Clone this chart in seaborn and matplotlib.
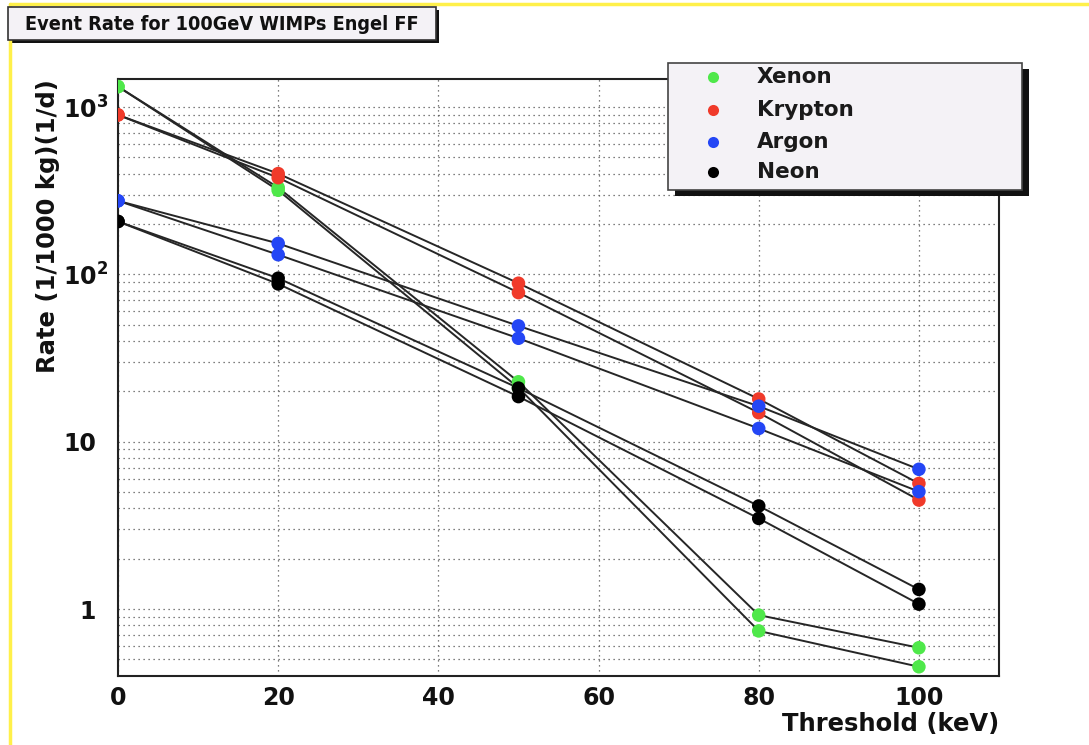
import numpy as np
import pandas as pd
import matplotlib
matplotlib.use("Agg")
import matplotlib.pyplot as plt
import matplotlib.font_manager as fm
import matplotlib.transforms as mtrans
import seaborn as sns
from matplotlib.lines import Line2D
from matplotlib.patches import Rectangle
from matplotlib.ticker import FixedLocator, MultipleLocator, LogLocator, NullFormatter

# ---------------- data ----------------
thresholds = [0, 20, 50, 80, 100]
xenon_a = [1324, 330, 22.8, 0.92, 0.587]
xenon_b = [1324, 318, 21.0, 0.74, 0.452]
krypton_a = [897, 400, 88.5, 18.0, 5.63]
krypton_b = [897, 378, 77.8, 14.9, 4.48]
argon_a = [275, 153, 49.2, 16.3, 6.84]
argon_b = [275, 131, 41.5, 12.0, 5.03]
neon_a = [207, 94.8, 20.9, 4.13, 1.31]
neon_b = [207, 87.7, 18.6, 3.48, 1.07]

elements = ["Xenon", "Krypton", "Argon", "Neon"]
colors = ["#4fe84a", "#f03a2a", "#2446f5", "#000000"]
title = "Event Rate for 100GeV WIMPs Engel FF"
xlabel = "Threshold (keV)"
ylabel = "Rate (1/1000 kg)(1/d)"
ytick_vals = [1, 10, 100, 1000]
ytick_labels = ["1", "10", r"$10^{2}$", r"$10^{3}$"]
xtick_vals = [0, 20, 40, 60, 80, 100]

series = {
    "Xenon": [xenon_a, xenon_b],
    "Krypton": [krypton_a, krypton_b],
    "Argon": [argon_a, argon_b],
    "Neon": [neon_a, neon_b],
}
rows = []
for elem in elements:
    for k, vals in enumerate(series[elem]):
        for t, v in zip(thresholds, vals):
            rows.append(dict(Threshold=t, Rate=v, Element=elem, Curve=f"{elem}-{k}"))
df = pd.DataFrame(rows)

# ---------------- style ----------------
sns.set_style("white")
plt.rcParams["font.family"] = ["DejaVu Sans"]
plt.rcParams["mathtext.fontset"] = "dejavusans"
plt.rcParams["mathtext.default"] = "bf"

W, H = 1089, 745
fig = plt.figure(figsize=(W / 100, H / 100), dpi=100)
fig.patch.set_facecolor("white")

def fx(p):
    return p / W

def fy(p):
    return 1 - p / H

ax = fig.add_axes([fx(118), fy(676), (999 - 118) / W, (676 - 79) / H])
ax.set_facecolor("white")

sns.lineplot(data=df, x="Threshold", y="Rate", units="Curve", estimator=None,
             color="#262626", lw=1.4, ax=ax, legend=False, sort=False, zorder=2)
sns.scatterplot(data=df, x="Threshold", y="Rate", hue="Element",
                palette=dict(zip(elements, colors)), s=95, edgecolor="none",
                ax=ax, legend=False, zorder=3)

ax.set_yscale("log")
ax.set_xlim(0, 110)
ax.set_ylim(0.398, 1470)

ax.xaxis.set_major_locator(FixedLocator(xtick_vals))
ax.xaxis.set_minor_locator(MultipleLocator(5))
ax.set_xticklabels([str(v) for v in xtick_vals])
ax.yaxis.set_major_locator(FixedLocator(ytick_vals))
ax.set_yticklabels(ytick_labels)
ax.yaxis.set_minor_locator(LogLocator(base=10, subs=np.arange(2, 10)))
ax.yaxis.set_minor_formatter(NullFormatter())

ax.tick_params(axis="x", which="major", direction="in", length=11, width=1.3,
               pad=7, labelsize=17, colors="#222222", labelcolor="#111111")
ax.tick_params(axis="x", which="minor", direction="in", length=6, width=1.3,
               colors="#222222")
ax.tick_params(axis="y", which="major", direction="in", length=19, width=1.3,
               pad=16, labelsize=17, colors="#444444", labelcolor="#111111")
ax.tick_params(axis="y", which="minor", direction="in", length=11, width=1.3,
               colors="#444444")
for lab in ax.get_xticklabels() + ax.get_yticklabels():
    lab.set_fontweight("bold")

# shift power-of-ten labels so the exponent sticks out to the right (ROOT style)
shift = mtrans.ScaledTranslation(9 / 72, 0, fig.dpi_scale_trans)
for tick in ax.yaxis.get_major_ticks():
    if tick.label1.get_text().startswith("$"):
        tick.label1.set_transform(tick.label1.get_transform() + shift)

grid_kw = dict(ls=(0, (1, 3)), color="#555555", lw=0.9)
ax.grid(True, which="both", axis="y", **grid_kw)
ax.grid(True, which="major", axis="x", **grid_kw)
ax.set_axisbelow(True)

for sp in ax.spines.values():
    sp.set_visible(True)
    sp.set_color("#222222")
    sp.set_linewidth(1.5)

ax.set_xlabel(xlabel, fontsize=17.5, fontweight="bold", loc="right", color="#111111")
ax.xaxis.set_label_coords(1.0, -0.06)
ax.set_ylabel(ylabel, fontsize=17.5, fontweight="bold", loc="top", color="#111111")
ax.yaxis.set_label_coords(-0.066, 1.0)

# ---------------- title ----------------
box_fc = "#f4f2f6"

def pick_condensed():
    best = None
    for f in fm.fontManager.ttflist:
        name = f.name
        st = str(f.stretch).lower()
        fn = f.fname.lower()
        cond = ("narrow" in name.lower() or "condensed" in name.lower()
                or "condensed" in st or "narrow" in fn or "condensed" in fn)
        if not cond:
            continue
        w = f.weight
        bold = (w in ("bold", "semibold", "demibold") or
                (isinstance(w, (int, float)) and w >= 600) or "bold" in fn)
        if bold and "italic" not in fn and "oblique" not in fn:
            score = 0 if ("liberation" in name.lower() or "arial" in name.lower()) else 1
            if best is None or score < best[0]:
                best = (score, f.fname)
    return best[1] if best else None

cond_font = pick_condensed()
if cond_font:
    tprops = fm.FontProperties(fname=cond_font, size=15)
else:
    tprops = fm.FontProperties(family="Liberation Sans", weight="bold", size=15)
ttl = fig.text(0, 0, title, ha="center", va="center",
               fontproperties=tprops, color="#111111", zorder=3)
fig.canvas.draw()
bw = ttl.get_window_extent().width
if bw > 395:
    ttl.set_fontsize(15 * 395.0 / bw)
    fig.canvas.draw()
    bw = ttl.get_window_extent().width
box_w = max(324.0, bw + 34)
ttl.set_position((fx(8 + box_w / 2), fy(24)))
fig.patches.append(Rectangle((fx(11), fy(43)), box_w / W, 33 / H, transform=fig.transFigure,
                             facecolor="#111111", edgecolor="none", zorder=1))
fig.patches.append(Rectangle((fx(8), fy(40)), box_w / W, 33 / H, transform=fig.transFigure,
                             facecolor=box_fc, edgecolor="#333333", lw=1.2, zorder=2))

# ---------------- legend ----------------
fig.patches.append(Rectangle((fx(675), fy(196)), 354 / W, 127 / H, transform=fig.transFigure,
                             facecolor="#111111", edgecolor="none", zorder=5))
fig.patches.append(Rectangle((fx(668), fy(190)), 354 / W, 127 / H, transform=fig.transFigure,
                             facecolor=box_fc, edgecolor="#444444", lw=1.2, zorder=6))
leg_y = [77, 110, 142, 172]
for elem, col, py in zip(elements, colors, leg_y):
    fig.add_artist(Line2D([fx(713)], [fy(py)], marker="o", markersize=8, color=col,
                          markeredgecolor="none", transform=fig.transFigure, zorder=7))
    fig.text(fx(757), fy(py), elem, ha="left", va="center", fontsize=15.5,
             fontweight="bold", color="#1a1a1a", zorder=7)

# ---------------- yellow frame ----------------
fig.add_artist(Line2D([fx(10), fx(1089)], [fy(4), fy(4)], color="#fff04a", lw=2.5,
                      transform=fig.transFigure))
fig.add_artist(Line2D([fx(10), fx(10)], [fy(4), fy(745)], color="#fff04a", lw=2.5,
                      transform=fig.transFigure))

fig.savefig("out.png", dpi=100)
